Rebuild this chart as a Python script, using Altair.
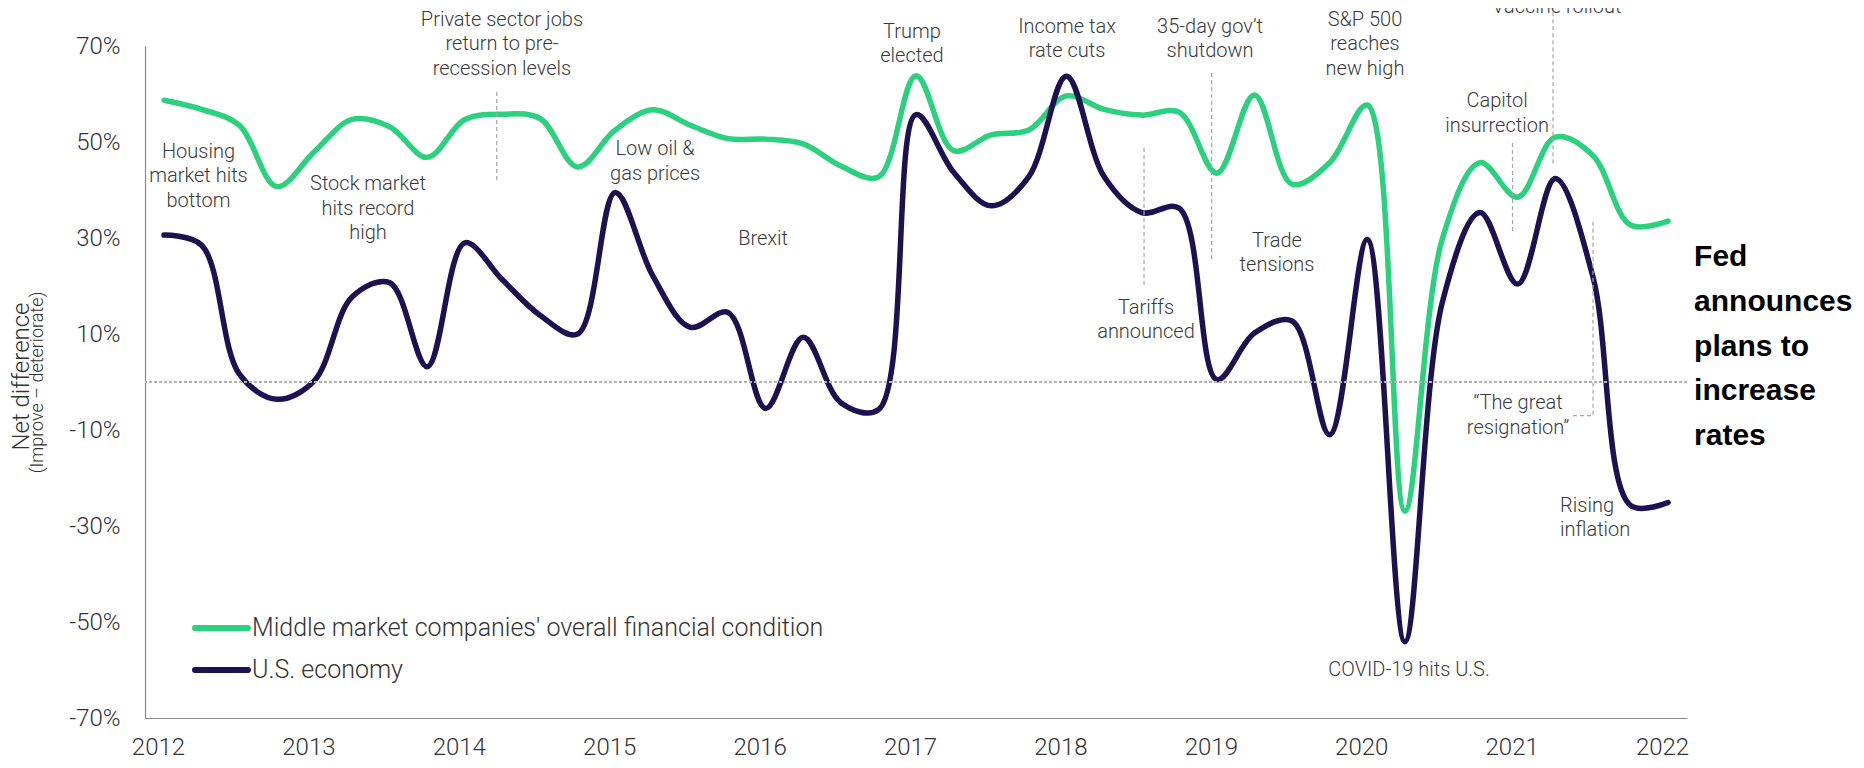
import altair as alt
import pandas as pd

# ---------------- data ----------------
quarters = [f"{y}-Q{q}" for y in range(2012, 2022) for q in (1, 2, 3, 4)] + ["2022-Q1"]

series_names = ["Middle market companies' overall financial condition", "U.S. economy"]
series_colors = ["#2bd17e", "#1d1150"]

mm_values = [58.7, 56.8, 53.5, 40.7, 48.0, 54.7, 53.2, 46.8, 54.7, 55.8,
             54.9, 44.8, 52.5, 56.7, 53.5, 50.7, 50.6, 49.6, 45.0, 42.7,
             63.8, 48.2, 51.5, 52.5, 59.6, 56.8, 55.6, 56.2, 43.5, 59.8,
             41.2, 45.7, 57.7, -26.9, 29.9, 45.7, 38.5, 51.0, 47.2, 32.7,
             33.5]
us_values = [30.6, 28.5, 1.7, -3.6, 0.3, 17.7, 20.7, 3.2, 29.0, 21.3,
             13.9, 10.0, 39.5, 22.1, 11.4, 14.5, -5.5, 9.3, -4.3, -5.8,
             55.7, 43.7, 36.7, 42.8, 63.7, 42.8, 35.3, 36.2, 0.5, 10.2,
             12.7, -11.0, 29.7, -54.1, 16.7, 35.3, 20.4, 42.4, 22.0, -25.7,
             -25.1]

year_ticks = list(range(2012, 2023))
y_ticks = [-70, -50, -30, -10, 10, 30, 50, 70]

# centred annotations: x = centre, y = first line
annotation_texts = [
    "Housing\nmarket hits\nbottom",
    "Stock market\nhits record\nhigh",
    "Private sector jobs\nreturn to pre-\nrecession levels",
    "Low oil &\ngas prices",
    "Brexit",
    "Trump\nelected",
    "Income tax\nrate cuts",
    "35-day gov\u2019t\nshutdown",
    "Tariffs\nannounced",
    "Trade\ntensions",
    "S&P 500\nreaches\nnew high",
    "Vaccine rollout",
    "Capitol\ninsurrection",
    "\u201cThe great\nresignation\u201d",
    "COVID-19 hits U.S.",
]
annotation_x = [2012.269, 2013.396, 2014.287, 2015.305, 2016.023, 2017.013, 2018.044,
                2018.995, 2018.569, 2019.44, 2020.025, 2021.30, 2020.903, 2021.043, 2020.318]
annotation_y = [47.92, 41.25, 75.42, 48.54, 29.79, 72.92, 73.96,
                73.96, 15.42, 29.38, 75.42, 78.1, 58.54, -4.38, -60.0]

left_texts = ["Rising\ninflation"]
left_x = [2021.322]
left_y = [-25.83]

fed_text = "Fed\nannounces\nplans to\nincrease\nrates"
fed_x = 2022.213
fed_y = 26.04

subtitle_text = "(Improve \u2013 deteriorate)"

# connector segments: (x1, y1, x2, y2)
conn_x1 = [2014.252, 2019.005, 2018.556, 2021.006, 2021.275, 2021.541, 2021.408]
conn_y1 = [60.4, 64.4, 48.75, 49.8, 78.5, 33.4, -7.0]
conn_x2 = [2014.252, 2019.005, 2018.556, 2021.006, 2021.275, 2021.541, 2021.541]
conn_y2 = [42.1, 25.4, 19.6, 30.8, 45.2, -7.0, -7.0]

# legend placement (data coordinates)
legend_x1 = [2012.246, 2012.246]
legend_x2 = [2012.598, 2012.598]
legend_y = [-51.25, -60.0]

# ---------------- build tables ----------------
def qpos(label):
    y, q = label.split("-Q")
    return int(y) + (int(q) - 1) * 0.25 + 0.04

rows = []
for name, vals in zip(series_names, [mm_values, us_values]):
    for q, v in zip(quarters, vals):
        rows.append({"t": qpos(q), "value": v, "series": name})
df = pd.DataFrame(rows)

ann_df = pd.DataFrame({"t": annotation_x, "value": annotation_y, "label": annotation_texts})
left_df = pd.DataFrame({"t": left_x, "value": left_y, "label": left_texts})
fed_df = pd.DataFrame({"t": [fed_x], "value": [fed_y], "label": [fed_text]})
sub_df = pd.DataFrame({"t": [2011.201], "value": [-0.1], "label": [subtitle_text]})
conn_df = pd.DataFrame({"t": conn_x1, "value": conn_y1, "t2": conn_x2, "value2": conn_y2})
leg_df = pd.DataFrame({"t": legend_x1, "t2": legend_x2, "value": legend_y, "series": series_names})
leg_df["tl"] = leg_df["t2"] + 0.027

FONT = "Roboto"
TEXT_COLOR = "#3a3a3a"

xscale = alt.Scale(domain=[2011.9136, 2022.166], nice=False, zero=False)
yscale = alt.Scale(domain=[-70, 70], nice=False, zero=False)
cscale = alt.Scale(domain=series_names, range=series_colors)

lines = alt.Chart(df).mark_line(
    interpolate="catmull-rom", strokeWidth=5.5, strokeCap="round", strokeJoin="round"
).encode(
    x=alt.X("t:Q", scale=xscale,
            axis=alt.Axis(values=year_ticks, format="d", title=None, labelPadding=17,
                          labelFlush=False, labelOverlap=False)),
    y=alt.Y("value:Q", scale=yscale,
            axis=alt.Axis(values=y_ticks, labelExpr="datum.value + '%'", labelPadding=25,
                          labelFlush=False, labelOverlap=False,
                          title="Net difference", titleFont=FONT, titleFontWeight=300,
                          titleFontSize=24, titleColor="#333333", titleAngle=270,
                          titleX=-124, titleY=330, titleAlign="center",
                          titleBaseline="middle")),
    color=alt.Color("series:N", scale=cscale, legend=None),
)

zero = alt.Chart(df).mark_rule(color="#b3b3b3", strokeWidth=1, strokeDash=[3, 2]).encode(
    y=alt.datum(0)
)

connectors = alt.Chart(conn_df).mark_rule(color="#a6a6a6", strokeWidth=1.2, strokeDash=[4, 3]).encode(
    x="t:Q", y="value:Q", x2="t2:Q", y2="value2:Q"
)

ann = alt.Chart(ann_df).mark_text(
    font=FONT, fontWeight=300, fontSize=20, lineHeight=24.5, color=TEXT_COLOR,
    align="center", baseline="middle", lineBreak="\n"
).encode(x="t:Q", y="value:Q", text="label:N")

ann_left = alt.Chart(left_df).mark_text(
    font=FONT, fontWeight=300, fontSize=20, lineHeight=24.5, color=TEXT_COLOR,
    align="left", baseline="middle", lineBreak="\n"
).encode(x="t:Q", y="value:Q", text="label:N")

fed = alt.Chart(fed_df).mark_text(
    font="Liberation Sans", fontWeight="bold", fontSize=30, lineHeight=44.8,
    color="#000000", align="left", baseline="middle", lineBreak="\n"
).encode(x="t:Q", y="value:Q", text="label:N")

subtitle = alt.Chart(sub_df).mark_text(
    font=FONT, fontWeight=300, fontSize=18, color="#333333", angle=270,
    align="center", baseline="middle"
).encode(x="t:Q", y="value:Q", text="label:N")

leg_lines = alt.Chart(leg_df).mark_rule(strokeWidth=6, strokeCap="round").encode(
    x="t:Q", x2="t2:Q", y="value:Q",
    color=alt.Color("series:N", scale=cscale, legend=None),
)
leg_text = alt.Chart(leg_df).mark_text(
    font=FONT, fontWeight=300, fontSize=25, color="#333333", align="left", baseline="middle"
).encode(x="tl:Q", y="value:Q", text="series:N")

chart = alt.layer(
    lines, zero, connectors, ann, ann_left, fed, subtitle, leg_lines, leg_text
).properties(
    width=1542, height=672,
    autosize=alt.AutoSizeParams(type="none"),
    padding={"left": 137, "top": 38, "right": 169, "bottom": 42},
).configure_view(stroke=None).configure_axis(
    grid=False, ticks=False, domainColor="#8a8a8a", domainWidth=1.2,
    labelFont=FONT, labelFontWeight=300, labelColor="#333333", labelFontSize=24,
)

chart.save("out.html", embed_options={"renderer": "svg", "actions": False})
